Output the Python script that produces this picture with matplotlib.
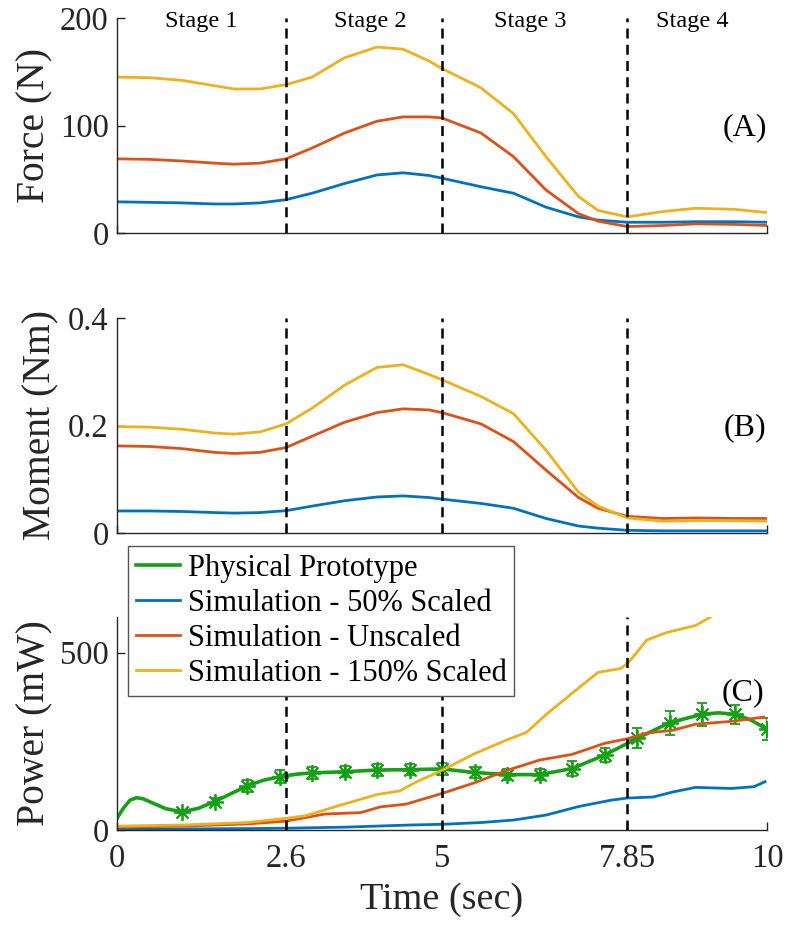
import numpy as np
import matplotlib.pyplot as plt

plt.rcParams['font.family'] = ['Liberation Serif', 'DejaVu Serif']
plt.rcParams['mathtext.fontset'] = 'stix'

# colours (MATLAB defaults + green for the prototype)
c_blue = '#0072BD'
c_red = '#D95319'
c_yel = '#EDB120'
c_grn = '#16A016'
c_ax = '#262626'

# stage boundaries, [sec]
stage_t = [2.6, 5, 7.85]
stage_names = ['Stage 1', 'Stage 2', 'Stage 3', 'Stage 4']
stage_mid = [1.3, 3.9, 6.35, 8.85]
xticks = [0, 2.6, 5, 7.85, 10]
xticklabels = ['0', '2.6', '5', '7.85', '10']

# (A) force, [N]
t_ab = [0, 0.5, 1.0, 1.5, 1.8, 2.2, 2.6, 3.0, 3.5, 4.0, 4.4, 4.8, 5.0,
        5.6, 6.1, 6.6, 7.1, 7.4, 7.85, 8.4, 8.9, 9.5, 10]
force_50 = [29, 28.5, 28, 27, 27, 28, 31, 37, 46, 54, 56, 53.5, 51,
            43, 37, 24, 15, 12, 10, 10, 10.5, 10.5, 10]
force_100 = [69, 68.5, 67, 65, 64, 65, 69, 79, 93, 104, 108, 108, 107,
             93, 71, 40, 18, 11, 6, 7, 8.5, 8, 7]
force_150 = [145, 144.5, 142, 137, 134, 134, 138, 145, 163, 173, 171, 160, 153,
             135, 111, 71, 34, 21, 15, 20, 23, 22, 19]

# (B) moment, [Nm]
moment_50 = [0.041, 0.041, 0.040, 0.038, 0.037, 0.038, 0.0415, 0.050, 0.060, 0.067, 0.069, 0.066, 0.063,
             0.055, 0.046, 0.027, 0.013, 0.009, 0.005, 0.004, 0.004, 0.004, 0.004]
moment_100 = [0.162, 0.161, 0.157, 0.150, 0.148, 0.150, 0.159, 0.180, 0.206, 0.224, 0.231, 0.229, 0.224,
              0.203, 0.170, 0.117, 0.066, 0.046, 0.031, 0.027, 0.028, 0.027, 0.027]
moment_150 = [0.198, 0.197, 0.193, 0.186, 0.184, 0.188, 0.203, 0.232, 0.275, 0.308, 0.313, 0.295, 0.285,
              0.254, 0.222, 0.154, 0.076, 0.050, 0.028, 0.022, 0.023, 0.023, 0.022]

# (C) power, [mW]
t_p50 = [0, 1, 2, 2.6, 3.5, 4.5, 5.0, 5.6, 6.1, 6.6, 7.1, 7.6, 7.85, 8.25, 8.55, 8.9, 9.45, 9.8, 9.97]
power_50 = [2, 3, 4, 5, 8, 14, 16, 21, 28, 42, 66, 84, 90, 93, 107, 120, 117, 122, 136]
t_p100 = [0, 1, 2, 2.6, 3.2, 3.75, 4.05, 4.45, 5.0, 5.5, 6.0, 6.5, 7.0, 7.5, 7.85, 8.15, 8.55, 8.9, 9.45, 9.95]
power_100 = [8, 11, 17, 25, 45, 49, 65, 73, 103, 133, 168, 197, 213, 244, 257, 273, 281, 298, 306, 318]
t_p150 = [0, 1, 2, 2.6, 2.9, 3.4, 4.0, 4.35, 4.6, 5.0, 5.5, 6.0, 6.3, 6.6, 7.0, 7.4, 7.75, 7.87,
          8.15, 8.45, 8.9, 9.14]
power_150 = [11, 14, 21, 33, 40, 68, 100, 110, 135, 168, 215, 254, 275, 325, 385, 444, 455, 472,
             535, 556, 576, 601]

# physical prototype, smooth fit and measurements
t_proto = [0, 0.1, 0.2, 0.3, 0.4, 0.55, 0.75, 1.0, 1.25, 1.5, 1.75, 2.0, 2.25, 2.5, 2.75, 3.0, 3.5,
           4.0, 4.5, 5.0, 5.5, 6.0, 6.5, 7.0, 7.5, 8.0, 8.5, 9.0, 9.25, 9.5, 9.75, 10.0]
power_proto = [33, 62, 84, 91, 88, 76, 60, 51, 61, 80, 102, 124, 140, 150, 157, 161, 164,
               169, 170, 172, 162, 156, 156, 173, 211, 258, 302, 326, 330, 326, 310, 284]
t_meas = [1.0, 1.5, 2.0, 2.5, 3.0, 3.5, 4.0, 4.5, 5.0, 5.5, 6.0, 6.5, 7.0, 7.5, 8.0, 8.5, 9.0, 9.5, 10.0]
power_meas = [51, 80, 124, 150, 161, 164, 169, 170, 172, 162, 156, 156, 173, 211, 258, 302, 326, 326, 284]
power_err = [4, 10, 18, 18, 17, 16, 17, 15, 16, 16, 16, 15, 20, 20, 28, 33, 33, 27, 31]

fig = plt.figure(figsize=(7.87, 9.26), dpi=100)
left, width = 117 / 787, 650 / 787
axA = fig.add_axes([left, 1 - 233 / 926, width, 215 / 926])
axB = fig.add_axes([left, 1 - 533 / 926, width, 215 / 926])
axC = fig.add_axes([left, 1 - 830 / 926, width, 213 / 926])

lw = 2.0
axA.plot(t_ab, force_50, color=c_blue, lw=lw)
axA.plot(t_ab, force_100, color=c_red, lw=lw)
axA.plot(t_ab, force_150, color=c_yel, lw=lw)
axA.set_ylim(0, 200)
axA.set_yticks([0, 100, 200])
axA.set_ylabel('Force (N)', fontsize=28.5)
axA.yaxis.set_label_coords(-0.098, 0.5)

axB.plot(t_ab, moment_50, color=c_blue, lw=lw)
axB.plot(t_ab, moment_100, color=c_red, lw=lw)
axB.plot(t_ab, moment_150, color=c_yel, lw=lw)
axB.set_ylim(0, 0.4)
axB.set_yticks([0, 0.2, 0.4])
axB.set_yticklabels(['0', '0.2', '0.4'])
axB.set_ylabel('Moment (Nm)', fontsize=28.5)
axB.yaxis.set_label_coords(-0.088, 0.5)

axC.plot(t_proto, power_proto, color=c_grn, lw=2.6, label='Physical Prototype')
axC.errorbar(t_meas, power_meas, yerr=power_err, fmt='none', ecolor=c_grn, elinewidth=1.3, capsize=3.8,
             capthick=1.3)
axC.plot(t_meas, power_meas, ls='none', marker=(8, 2, 0), ms=12, mec=c_grn, mew=1.3)
axC.plot(t_p50, power_50, color=c_blue, lw=lw, label='Simulation - 50% Scaled')
axC.plot(t_p100, power_100, color=c_red, lw=lw, label='Simulation - Unscaled')
axC.plot(t_p150, power_150, color=c_yel, lw=lw, label='Simulation - 150% Scaled')
axC.set_ylim(0, 600)
axC.set_yticks([0, 500])
axC.set_ylabel('Power (mW)', fontsize=28.5)
axC.yaxis.set_label_coords(-0.098, 0.5)
axC.set_xlabel('Time (sec)', fontsize=27.5, labelpad=6)

for ax in (axA, axB, axC):
    ax.set_xlim(0, 10)
    ax.set_xticks(xticks)
    for ts in stage_t:
        ax.axvline(ts, color='black', ls=(0, (4, 2.5)), lw=1.8, zorder=5)
    for side in ('top', 'right'):
        ax.spines[side].set_visible(False)
    for side in ('left', 'bottom'):
        ax.spines[side].set_color(c_ax)
        ax.spines[side].set_linewidth(1.0)
    ax.tick_params(direction='in', length=6, width=1.0, colors=c_ax, labelsize=23.5, pad=6)
    ax.tick_params(axis='x', pad=10)
    ax.yaxis.label.set_color(c_ax)
    ax.xaxis.label.set_color(c_ax)

axA.set_xticklabels([])
axB.set_xticklabels([])
axC.set_xticklabels(xticklabels)

for name, tm in zip(stage_names, stage_mid):
    axA.text(tm, 197, name, fontsize=17.5, ha='center', va='center', color='black')

axA.text(9.66, 98, '(A)', fontsize=23, ha='center', va='center')
axB.text(9.66, 0.195, '(B)', fontsize=23, ha='center', va='center')
axC.text(9.63, 388, '(C)', fontsize=23, ha='center', va='center')

leg = axC.legend(loc='upper left', bbox_to_anchor=(128 / 787, 1 - 546 / 926), bbox_transform=fig.transFigure,
                 borderaxespad=0, fontsize=22, handlelength=1.45, handletextpad=0.25, labelspacing=0.2,
                 borderpad=0.25, fancybox=False, framealpha=1, edgecolor='#555555')
leg.get_frame().set_linewidth(1.0)
leg.set_zorder(10)

fig.savefig('out.png', dpi=100)
